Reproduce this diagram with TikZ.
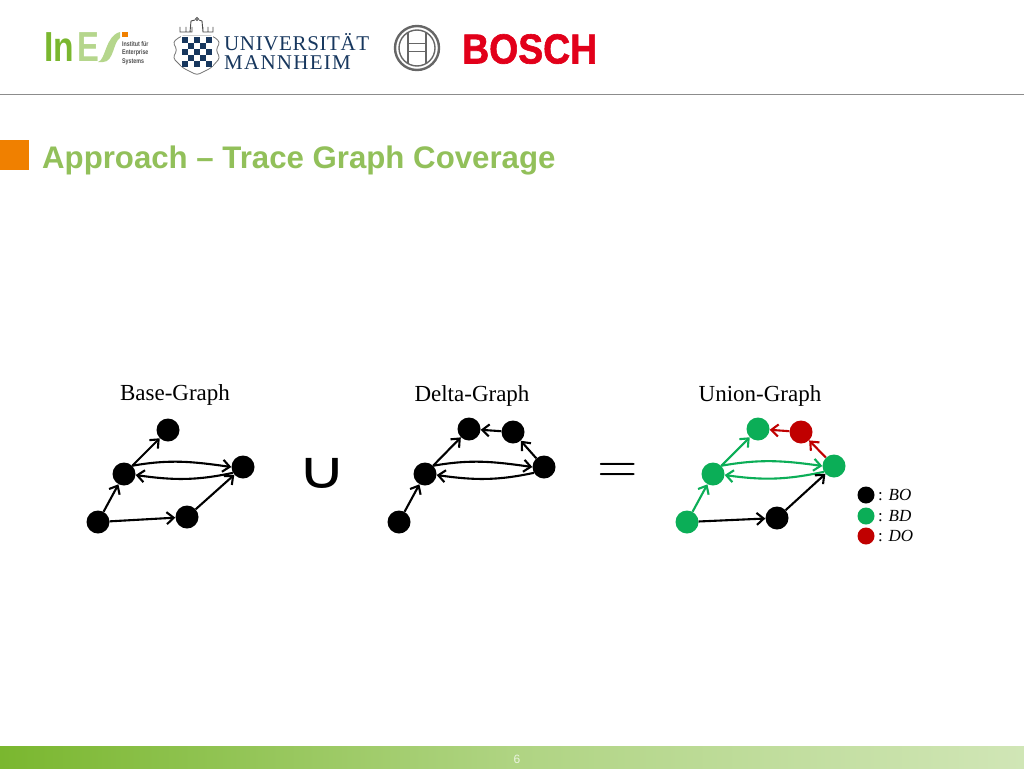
\documentclass[tikz,border=0pt]{standalone}
\usepackage{fontspec}
\usepackage{graphicx}
\setmainfont{Liberation Serif}
\newfontfamily\arialfont{Liberation Sans}
\newfontfamily\boschfont[BoldFeatures={FakeBold=1.5}]{Liberation Sans}
\newfontfamily\symfont{DejaVu Sans}
\newfontfamily\unifont[LetterSpace=3]{Liberation Serif}
\newfontfamily\mannfont[LetterSpace=6]{Liberation Serif}
\usetikzlibrary{shapes,arrows.meta,positioning}
\definecolor{inesgreen}{HTML}{7AB72F}
\definecolor{ineslight}{HTML}{B5D68C}
\definecolor{titlegreen}{HTML}{92C05A}
\definecolor{squareorange}{HTML}{F08000}
\definecolor{bdgreen}{HTML}{0BAE57}
\definecolor{dored}{HTML}{C00000}
\definecolor{uninavy}{HTML}{17375E}
\definecolor{boschred}{HTML}{E2001A}
\tikzstyle{bonode} = [circle, fill=black, inner sep = 0pt, minimum size = 23pt]
\tikzstyle{bdnode} = [bonode, fill=bdgreen]
\tikzstyle{donode} = [bonode, fill=dored]
\tikzstyle{keynode} = [circle, inner sep = 0pt, minimum size = 17pt, label={[font=\fontsize{17}{17}\selectfont, label distance=0pt]right:{#1}}]
\tikzstyle{line} = [draw, line width=2.1pt, -{Straight Barb[length=7pt,width=12pt,line width=2.1pt]}]
\tikzstyle{upper} = [out=10, in=172]
\tikzstyle{lower} = [out=192, in=-8]
\tikzstyle{head} = [font=\fontsize{23}{24}\selectfont, inner sep=0pt]
\tikzstyle{oper} = [inner sep=0pt, font=\symfont\fontsize{52}{52}\selectfont]

\begin{document}
\begin{tikzpicture}[x=1pt, y=-1pt]
	\useasboundingbox (0, 0) rectangle (1024, 768);
	\fill [white] (0, 0) rectangle (1024, 768);

	% header
	\node [inner sep=0pt, anchor=base west, text=inesgreen, font=\arialfont\bfseries\fontsize{42}{42}\selectfont] (in) at (44, 62) {\scalebox{.8}[1]{In}};
	\node [inner sep=0pt, anchor=base west, text=ineslight, font=\arialfont\bfseries\fontsize{42}{42}\selectfont] (e) at (77, 62) {\scalebox{.78}[1]{E}};
	\fill [ineslight] (98, 62) .. controls (106, 60) and (105, 36) .. (120, 32) -- (120, 38) .. controls (113, 42) and (114, 62) .. (103, 62) -- cycle;
	\fill [squareorange] (122, 32) rectangle (128, 37);
	\node [inner sep=0pt, anchor=north west, text=black!70, font=\arialfont\bfseries\fontsize{6.8}{8}\selectfont] (institut) at (122, 41) {\scalebox{.78}[1]{\shortstack[l]{Institut für\\Enterprise\\Systems}}};

	\draw [black!55, line width=.8pt, rounded corners=3pt] (173, 42) -- (181, 36) -- (213, 36) -- (220, 42) -- (216, 50) -- (220, 58) -- (211, 68) -- (197, 75) -- (183, 68) -- (173, 58) -- (177, 50) -- cycle;
	\fill [white] (181, 36) rectangle (213, 66);
	\foreach \i in {0,...,4} {
		\foreach \j in {0,...,4} {
			\pgfmathparse{int(mod(\i+\j, 2))}
			\ifnum\pgfmathresult=0
				\fill [uninavy] (182+6*\i, 37+6*\j) rectangle (188+6*\i, 43+6*\j);
			\fi
		}
	}
	\draw [black!70, line width=.9pt] (180, 27) -- (180, 32) -- (192, 32) -- (192, 27) (186, 27) -- (186, 32) (203, 27) -- (203, 32) -- (213, 32) -- (213, 27) (208, 27) -- (208, 32) (190, 32) -- (191, 21) -- (195, 20) (203, 32) -- (202, 21) -- (199, 20);
	\node [circle, draw=black!70, line width=.9pt, minimum size=3pt, inner sep=0pt] (crownball) at (197, 19) {};
	\node [inner sep=0pt, anchor=base west, text=uninavy, font=\unifont\fontsize{21}{21}\selectfont] (uni) at (224, 50) {UNIVERSITÄT};
	\node [inner sep=0pt, anchor=base west, text=uninavy, font=\mannfont\fontsize{21}{21}\selectfont] (mann) at (224, 69) {MANNHEIM};

	\node [circle, draw=black!60, line width=2.4pt, minimum size=44pt, inner sep=0pt] (boschring) at (417, 48) {};
	\node [circle, draw=black!60, line width=1.4pt, minimum size=36pt, inner sep=0pt] (boschinner) at (417, 48) {};
	\draw [black!60, line width=2pt] (408, 32) -- (408, 64) (426, 32) -- (426, 64);
	\draw [black!60, line width=1.4pt] (408, 43.5) -- (426, 43.5) (408, 51.5) -- (426, 51.5);
	\node [inner sep=0pt, anchor=base west, text=boschred, font=\boschfont\bfseries\fontsize{42}{42}\selectfont] (bosch) at (462, 63.5) {\scalebox{.89}[1]{BOSCH}};

	\draw [black!45, line width=1pt] (0, 94) -- (1024, 94);
	\fill [squareorange] (0, 140) rectangle (29, 170);
	\node [inner sep=0pt, anchor=base west, text=titlegreen, font=\arialfont\bfseries\fontsize{31.2}{32}\selectfont] (title) at (42, 168) {Approach – Trace Graph Coverage};

	% base graph
	\node [head] (basehead) at (175, 395) {Base-Graph};
	\node [bonode] (b1) at (98, 522) {};
	\node [bonode] (b2) at (124, 474) {};
	\node [bonode] (b3) at (168, 430) {};
	\node [bonode] (b4) at (243, 467) {};
	\node [bonode] (b5) at (187, 517) {};

	\path [line] (b1) -- (b2);
	\path [line] (b2) -- (b3);
	\path [line] (b2.45) to [upper] (b4.180);
	\path [line] (b4.210) to [lower] (b2.355);
	\path [line] (b1) -- (b5);
	\path [line] (b5) -- (b4);

	\node [oper] (cupsign) at (322, 473) {\scalebox{1.3}[1]{∪}};

	% delta graph
	\node [head] (deltahead) at (472, 396) {Delta-Graph};
	\node [bonode] (d1) at (399, 522) {};
	\node [bonode] (d2) at (425, 474) {};
	\node [bonode] (d3) at (469, 429) {};
	\node [bonode] (d4) at (513, 432) {};
	\node [bonode] (d5) at (544, 467) {};

	\path [line] (d1) -- (d2);
	\path [line] (d2) -- (d3);
	\path [line] (d2.45) to [upper] (d5.180);
	\path [line] (d5.210) to [lower] (d2.355);
	\path [line] (d5) -- (d4);
	\path [line] (d4) -- (d3);

	\node [inner sep=0pt] (eqsign) at (618, 473) {\scalebox{5.2}{$=$}};

	% union graph
	\node [head] (unionhead) at (760, 396) {Union-Graph};
	\node [bdnode] (u1) at (687, 522) {};
	\node [bdnode] (u2) at (713, 474) {};
	\node [bdnode] (u3) at (758, 429) {};
	\node [donode] (u4) at (801, 432) {};
	\node [bdnode] (u5) at (834, 466) {};
	\node [bonode] (u6) at (777, 518) {};

	\path [line, bdgreen] (u1) -- (u2);
	\path [line, bdgreen] (u2) -- (u3);
	\path [line, bdgreen] (u2.45) to [upper] (u5.180);
	\path [line, bdgreen] (u5.210) to [lower] (u2.355);
	\path [line, dored] (u5) -- (u4);
	\path [line, dored] (u4) -- (u3);
	\path [line] (u1) -- (u6);
	\path [line] (u6) -- (u5);

	% legend
	\node [keynode={: \textit{BO}}, fill=black] (keybo) at (866, 495) {};
	\node [keynode={: \textit{BD}}, fill=bdgreen] (keybd) at (866, 516) {};
	\node [keynode={: \textit{DO}}, fill=dored] (keydo) at (866, 536) {};

	% footer
	\shade [left color=inesgreen, right color=inesgreen!35!white, middle color=inesgreen!60!white] (0, 746) rectangle (1024, 768);
	\node [inner sep=0pt, text=white!85!inesgreen, font=\arialfont\fontsize{12}{12}\selectfont] (pageno) at (517, 759) {6};
\end{tikzpicture}
\end{document}
